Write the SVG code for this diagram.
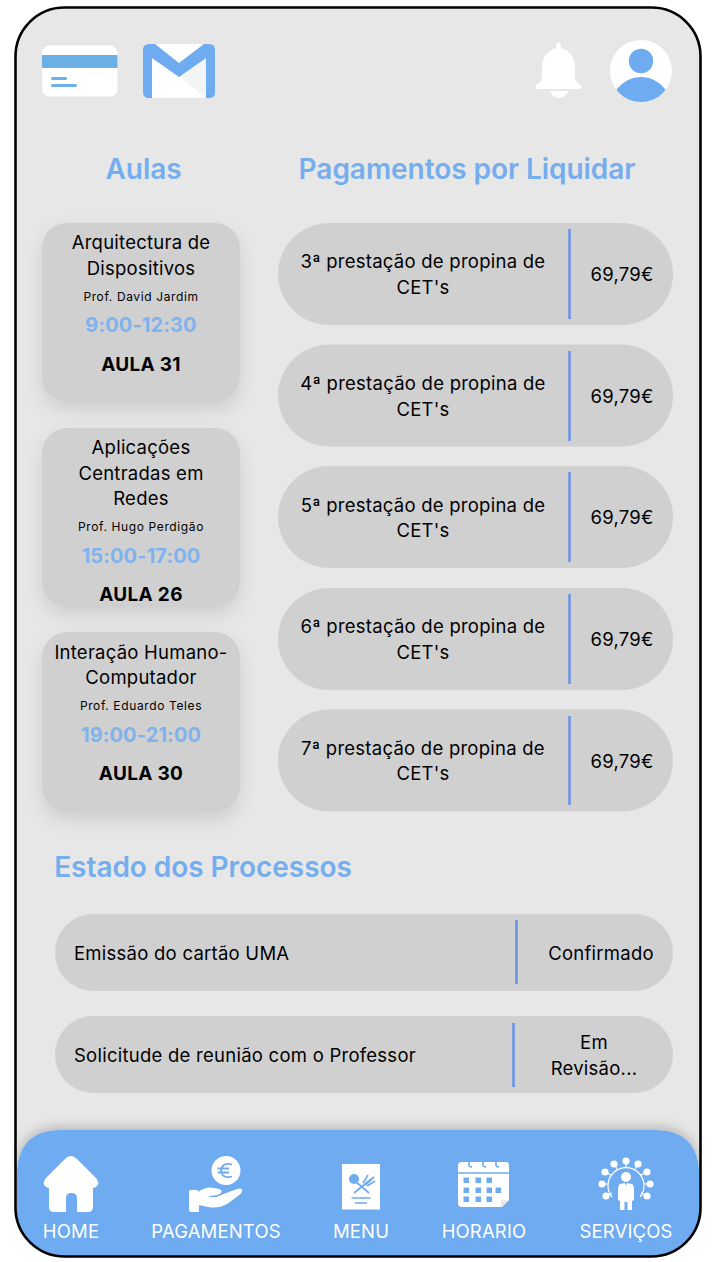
<svg xmlns="http://www.w3.org/2000/svg" width="716" height="1262" viewBox="0 0 716 1262">
<style>
text{font-family:Inter,"Liberation Sans",sans-serif;text-anchor:middle;fill:#000}
.h{font-size:28px;font-weight:600;fill:#74aeee;letter-spacing:-.05px}
.t{font-size:18.500px;letter-spacing:.24px}
.p{font-size:12px;letter-spacing:.62px}
.c{font-size:20px;font-weight:700;fill:#7fb3ee;letter-spacing:.1px}
.a{font-size:19px;font-weight:700;letter-spacing:.3px}
.m{font-size:18.500px;letter-spacing:.25px}
.n{font-size:18.500px;fill:#fff;letter-spacing:.15px}
.card{fill:#d0d0d0;filter:url(#sh)}
.pill{fill:#d0d0d0}
.div{stroke:#6d94e3;stroke-width:2.600}
.w{fill:#fff}
.b{fill:#6eabf0}
</style>
<defs>
<filter id="sh" x="-30%" y="-30%" width="160%" height="160%"><feDropShadow dx="0" dy="8" stdDeviation="9" flood-color="#000" flood-opacity=".11"/></filter>
<filter id="nsh" x="-5%" y="-20%" width="110%" height="140%"><feDropShadow dx="0" dy="-3" stdDeviation="6" flood-color="#000" flood-opacity=".22"/></filter>
<clipPath id="frame"><rect x="16" y="8" width="684" height="1248" rx="48"/></clipPath>
<clipPath id="uc"><circle cx="641" cy="71" r="31"/></clipPath>
</defs>
<rect width="716" height="1262" fill="#fff"/>
<rect id="frame-bg" x="15.500" y="7.500" width="685" height="1249" rx="49" fill="#e7e7e7"/>
<g id="icon-card">
<rect class="w" x="42" y="45.500" width="75.500" height="51" rx="8"/>
<rect x="42" y="55" width="75.500" height="13" fill="#6cb0e8"/>
<rect x="51" y="77" width="16" height="3" rx="1.500" fill="#6cb0e8"/>
<rect x="51" y="84" width="26" height="3" rx="1.500" fill="#6cb0e8"/>
</g>
<g id="icon-mail">
<rect class="w" x="150" y="44" width="60" height="54"/>
<path d="M179 76L206 98V58Z" fill="#f3f4f5"/>
<path class="b" d="M149 44H155L179 63L204 44H209Q215 44 215 50V92Q215 98 209 98H206V58L179 77L152 58V98H149Q143 98 143 92V50Q143 44 149 44Z"/>
</g>
<g id="icon-bell">
<path class="w" d="M558.500 43Q561 43 561 48Q575 52 575 68V78Q575 82 581 85Q583 89 579 89H538Q534 89 536 85Q542 82 542 78V68Q542 52 556 48Q556 43 558.500 43Z"/>
<path class="w" d="M550 91H568Q565 98 559 98Q553 98 550 91Z"/>
</g>
<g id="icon-user">
<circle class="w" cx="641" cy="71" r="31"/>
<circle class="b" cx="641" cy="61" r="12.200"/>
<path class="b" clip-path="url(#uc)" d="M616 90Q626 77 641 77Q656 77 666 90V104H616Z"/>
</g>
<g id="headings">
<text class="h" x="143.500" y="179">Aulas</text>
<text class="h" x="467" y="179">Pagamentos por Liquidar</text>
<text class="h" x="203" y="877">Estado dos Processos</text>
</g>
<g id="aula-1">
<rect class="card" x="42" y="223" width="198" height="179" rx="25"/>
<text class="t" x="141" y="249">Arquitectura de</text>
<text class="t" x="141" y="275">Dispositivos</text>
<text class="p" x="141" y="301">Prof. David Jardim</text>
<text class="c" x="141" y="332">9:00-12:30</text>
<text class="a" x="141" y="371">AULA 31</text>
</g>
<g id="aula-2">
<rect class="card" x="42" y="428" width="198" height="179" rx="25"/>
<text class="t" x="141" y="454">Aplicações</text>
<text class="t" x="141" y="480">Centradas em</text>
<text class="t" x="141" y="505">Redes</text>
<text class="p" x="141" y="531">Prof. Hugo Perdigão</text>
<text class="c" x="141" y="563">15:00-17:00</text>
<text class="a" x="141" y="601">AULA 26</text>
</g>
<g id="aula-3">
<rect class="card" x="42" y="632" width="198" height="180" rx="25"/>
<text class="t" x="141" y="659">Interação Humano-</text>
<text class="t" x="141" y="684">Computador</text>
<text class="p" x="141" y="710">Prof. Eduardo Teles</text>
<text class="c" x="141" y="742">19:00-21:00</text>
<text class="a" x="141" y="780">AULA 30</text>
</g>
<g id="pag-3">
<rect class="pill" x="278" y="223" width="395" height="102" rx="51"/>
<text class="m" x="423" y="268">3ª prestação de propina de</text>
<text class="m" x="423" y="294">CET's</text>
<line class="div" x1="569.500" y1="229" x2="569.500" y2="319"/>
<text class="m" x="622" y="281">69,79€</text>
</g>
<g id="pag-4">
<rect class="pill" x="278" y="344.500" width="395" height="102" rx="51"/>
<text class="m" x="423" y="390">4ª prestação de propina de</text>
<text class="m" x="423" y="416">CET's</text>
<line class="div" x1="569.500" y1="351" x2="569.500" y2="441"/>
<text class="m" x="622" y="403">69,79€</text>
</g>
<g id="pag-5">
<rect class="pill" x="278" y="466" width="395" height="102" rx="51"/>
<text class="m" x="423" y="512">5ª prestação de propina de</text>
<text class="m" x="423" y="537">CET's</text>
<line class="div" x1="569.500" y1="472" x2="569.500" y2="562"/>
<text class="m" x="622" y="524">69,79€</text>
</g>
<g id="pag-6">
<rect class="pill" x="278" y="588" width="395" height="102" rx="51"/>
<text class="m" x="423" y="633">6ª prestação de propina de</text>
<text class="m" x="423" y="659">CET's</text>
<line class="div" x1="569.500" y1="594" x2="569.500" y2="684"/>
<text class="m" x="622" y="646">69,79€</text>
</g>
<g id="pag-7">
<rect class="pill" x="278" y="709.500" width="395" height="102" rx="51"/>
<text class="m" x="423" y="755">7ª prestação de propina de</text>
<text class="m" x="423" y="780">CET's</text>
<line class="div" x1="569.500" y1="716" x2="569.500" y2="805"/>
<text class="m" x="622" y="768">69,79€</text>
</g>
<g id="proc-1">
<rect class="pill" x="55" y="914" width="618" height="77" rx="38"/>
<text class="m" x="74" y="960" style="text-anchor:start">Emissão do cartão UMA</text>
<line class="div" x1="516.500" y1="920" x2="516.500" y2="984"/>
<text class="m" x="601" y="960">Confirmado</text>
</g>
<g id="proc-2">
<rect class="pill" x="55" y="1016" width="618" height="77" rx="38"/>
<text class="m" x="74" y="1062" style="text-anchor:start">Solicitude de reunião com o Professor</text>
<line class="div" x1="513.500" y1="1023" x2="513.500" y2="1087"/>
<text class="m" x="594" y="1049">Em</text>
<text class="m" x="594" y="1075">Revisão...</text>
</g>
<g id="nav">
<g clip-path="url(#frame)"><path class="b" filter="url(#nsh)" d="M62 1130H654Q699 1130 699 1175V1260H17V1175Q17 1130 62 1130Z"/></g>
<g id="nav-home">
<path class="w" d="M71 1156Q74 1156 77 1159L96 1178Q100 1183 97 1186Q95 1188 93 1188V1207Q93 1212 88 1212H77V1198Q77 1193 71.500 1193Q66 1193 66 1198V1212H54Q49 1212 49 1207V1188Q47 1188 45 1186Q42 1183 46 1178L65 1159Q68 1156 71 1156Z"/>
<text class="n" x="71" y="1238">HOME</text>
</g>
<g id="nav-pag">
<circle class="w" cx="226" cy="1170.500" r="14.500"/>
<path d="M232 1164.500Q222 1162 221 1170.500Q222 1179 232 1176.500M217.500 1168.500H229M217.500 1172.500H229" fill="none" stroke="#6eabf0" stroke-width="1.800"/>
<path class="w" d="M189 1191Q189 1190 191 1190H198V1192Q206 1186 214 1188Q224 1189 221 1193Q218 1196 208 1196Q214 1199 221 1195L237 1189Q243 1187 242 1192Q240 1195 227 1204Q218 1209 208 1207L199 1205V1212H191Q189 1212 189 1210Z"/>
<text class="n" x="216" y="1238">PAGAMENTOS</text>
</g>
<g id="nav-menu">
<rect class="w" x="342" y="1164" width="38" height="45.500"/>
<circle cx="354" cy="1179" r="5" fill="#6eabf0"/>
<path d="M355 1181L369 1193M371 1179L354 1193M368 1175L363 1183M374 1177L365 1185M375 1181L367 1186" stroke="#6eabf0" stroke-width="1.700" fill="none"/>
<path d="M351.500 1198H370.500M355 1203H367" stroke="#6eabf0" stroke-width="1.600"/>
<text class="n" x="361" y="1238">MENU</text>
</g>
<g id="nav-horario">
<path class="w" d="M462 1162H506Q509 1162 509 1165V1200L502 1207H462Q458 1207 458 1203V1166Q458 1162 462 1162Z"/>
<path d="M458 1173H509" stroke="#6eabf0" stroke-width="1.300"/>
<path d="M469 1161V1165Q469 1167 472 1167M483 1161V1165Q483 1167 486 1167M496 1161V1165Q496 1167 499 1167" stroke="#6eabf0" stroke-width="1.600" fill="none"/>
<path fill="#6eabf0" d="M463.500 1177.500h5.500v5.500h-5.500zM475.500 1177.500h5.500v5.500h-5.500zM486.500 1177.500h5.500v5.500h-5.500zM463.500 1187.500h5.500v5.500h-5.500zM475.500 1187.500h5.500v5.500h-5.500zM486.500 1187.500h5.500v5.500h-5.500zM495.500 1187.500h5.500v5.500h-5.500zM463.500 1196.500h5.500v5.500h-5.500zM475.500 1196.500h5.500v5.500h-5.500zM486.500 1196.500h5.500v5.500h-5.500z"/>
<path d="M502 1207Q500 1202 501 1200Q505 1201 509 1200Z" fill="#e6e6e6"/>
<text class="n" x="484" y="1238">HORARIO</text>
</g>
<g id="nav-servicos">
<circle class="w" cx="626" cy="1177" r="5"/>
<path class="w" d="M620 1184L625 1183L626 1186L627 1183L632 1184Q634 1185 634 1190V1200L632 1201V1210H627.500V1202H624.500V1210H620V1201L618 1200V1190Q618 1185 620 1184Z"/>
<path d="M612 1197A18 18 0 1 1 640 1197" fill="none" stroke="#fff" stroke-width="1.200"/>
<path d="M626 1161V1167M614 1164L617 1169M638 1164L635 1169M605 1172L611 1175M647 1172L641 1175M602 1184H608M650 1184H644M606 1196L612 1193M647 1196L641 1193" stroke="#fff" stroke-width="1.200"/>
<g class="w"><circle cx="626" cy="1161" r="3.600"/><circle cx="614" cy="1164" r="3.600"/><circle cx="638" cy="1164" r="3.600"/><circle cx="605" cy="1172" r="3.600"/><circle cx="647" cy="1172" r="3.600"/><circle cx="602" cy="1184" r="3.600"/><circle cx="650" cy="1184" r="3.600"/><circle cx="606" cy="1196" r="3.600"/><circle cx="647" cy="1196" r="3.600"/></g>
<text class="n" x="626" y="1238">SERVIÇOS</text>
</g>
</g>
<rect id="frame-line" x="15.500" y="7.500" width="685" height="1249" rx="49" fill="none" stroke="#000" stroke-width="2.600"/>
</svg>
